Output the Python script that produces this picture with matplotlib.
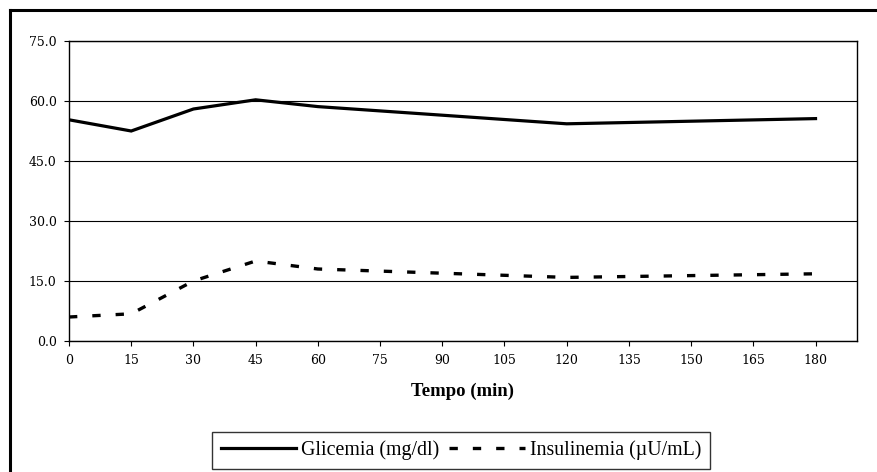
import matplotlib
matplotlib.use("Agg")
import matplotlib.pyplot as plt
from matplotlib.lines import Line2D
import numpy as np

# tempo (min) and the two series
tempo = [0, 15, 30, 45, 60, 120, 180]
glicemia = [55.3, 52.5, 58.0, 60.3, 58.6, 54.3, 55.6]
insulinemia = [6.0, 6.8, 15.0, 20.0, 18.0, 15.9, 16.8]

x_ticks = np.arange(0, 181, 15)
y_ticks = np.arange(0, 76, 15)

fig = plt.figure(figsize=(8.78, 4.72), dpi=100)
ax = fig.add_axes([69 / 878, 1 - 341 / 472, (857 - 69) / 878, 300 / 472])

ax.plot(tempo, glicemia, color="black", lw=2.3, solid_joinstyle="miter",
        label="Glicemia (mg/dl)", zorder=3)
ax.plot(tempo, insulinemia, color="black", lw=2.4, dashes=(2.5, 4.5),
        dash_capstyle="butt", label="Insulinemia (\u00b5U/mL)", zorder=3)

ax.set_xlim(0, 190)
ax.set_ylim(0, 75)
ax.set_xticks(x_ticks)
ax.set_yticks(y_ticks)
ax.set_yticklabels([f"{v:.1f}" for v in y_ticks])
ax.yaxis.grid(True, color="black", lw=0.8)
ax.set_axisbelow(True)
for s in ax.spines.values():
    s.set_color("black")
    s.set_linewidth(1.0)

ax.tick_params(axis="both", direction="out", length=3.5, width=0.8,
               colors="black", labelsize=9)
ax.tick_params(axis="y", pad=5.5)
ax.tick_params(axis="x", pad=6)
for lab in ax.get_xticklabels() + ax.get_yticklabels():
    lab.set_family("DejaVu Serif")

ax.set_xlabel("Tempo (min)", family="Liberation Serif", fontweight="bold",
              fontsize=13.5, labelpad=11)

leg = fig.legend(loc="center", bbox_to_anchor=(461 / 878, 1 - 450.5 / 472),
                 ncol=2, frameon=True, fancybox=False, edgecolor="black",
                 handlelength=3.8, handletextpad=0.25, columnspacing=0.5,
                 borderpad=0.45, borderaxespad=0,
                 prop={"family": "Liberation Serif", "size": 14.3})
leg.get_frame().set_linewidth(1.0)

# outer chart frame (cut off at right and bottom)
fig.add_artist(Line2D([0.0114, 1.0], [0.9778, 0.9778], color="black", lw=2.2))
fig.add_artist(Line2D([0.0114, 0.0114], [0.0, 0.9778], color="black", lw=2.2))

fig.savefig("out.png", dpi=100)
